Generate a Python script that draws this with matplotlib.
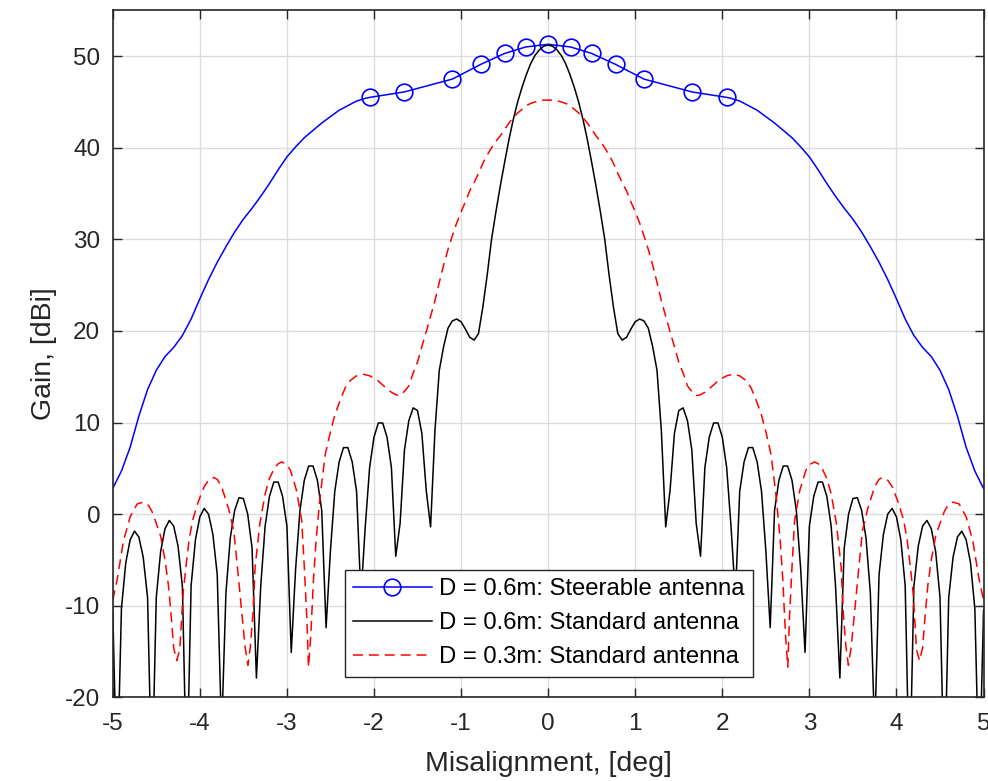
import numpy as np
import matplotlib
matplotlib.use("Agg")
import matplotlib.pyplot as plt

plt.rcParams['font.family'] = ['Liberation Sans', 'DejaVu Sans']
plt.rcParams['axes.unicode_minus'] = False

# ---------------- data (left half, mirrored: the pattern is symmetric) ----------------
# Steerable antenna D = 0.6 m
blue_x_left = [-5.0, -4.9, -4.8, -4.7, -4.6, -4.5, -4.4, -4.3, -4.2, -4.1,
               -4.0, -3.9, -3.8, -3.7, -3.6, -3.5, -3.4, -3.3, -3.2, -3.1,
               -3.0, -2.9, -2.8, -2.7, -2.6, -2.5, -2.4, -2.3, -2.2, -2.1,
               -2.05, -1.65, -1.1, -0.775, -0.5, -0.26, 0.0]
blue_y_left = [2.8, 4.7, 7.3, 10.7, 13.6, 15.7, 17.2, 18.2, 19.5, 21.3,
               23.5, 25.6, 27.5, 29.2, 30.8, 32.2, 33.4, 34.7, 36.1, 37.6,
               39.0, 40.1, 41.1, 41.9, 42.7, 43.4, 44.1, 44.6, 45.1, 45.4,
               45.5, 46.1, 47.5, 49.1, 50.3, 51.0, 51.3]
blue_marker_x_left = [-2.05, -1.65, -1.1, -0.775, -0.5, -0.26, 0.0]

# Standard antenna D = 0.6 m (sampled every 0.05 deg from -5 to 0)
black_x_left = np.linspace(-5.0, 0.0, 101)
black_y_left = [-10.5, -30, -10.3, -5.3, -2.8, -1.86, -2.5, -4.7, -9.1, -30,
                -9.1, -4.1, -1.6, -0.69, -1.3, -3.5, -7.9, -30, -7.8, -2.8,
                -0.3, 0.62, 0.0, -2.2, -6.6, -24, -8.6, -2.6, 0.4, 1.8,
                1.7, 0.0, -3.7, -17.9, -7.8, -1.3, 1.95, 3.5, 3.5, 1.95,
                -1.3, -15.1, -6.0, 0.4, 3.7, 5.25, 5.25, 3.7, 0.4, -12.4,
                -4.0, 2.5, 5.7, 7.26, 7.26, 5.7, 2.5, -9.0, -1.35, 5.1,
                8.4, 9.95, 9.95, 8.4, 5.1, -4.6, -1.0, 7.0, 10.2, 11.6,
                11.3, 8.8, 2.6, -1.4, 9.1, 15.7, 18.3, 20.3, 21.1, 21.3,
                21.0, 20.2, 19.3, 19.0, 19.7, 22.6, 26.1, 30.0, 33.0, 35.8,
                38.4, 40.9, 43.1, 45.0, 46.6, 48.0, 49.2, 50.1, 50.7, 51.1,
                51.2]

# Standard antenna D = 0.3 m
red_x_left = [-5.00, -4.95, -4.90, -4.876, -4.85, -4.80, -4.72, -4.65, -4.59, -4.55,
              -4.50, -4.45, -4.40, -4.36, -4.33, -4.30, -4.265, -4.23, -4.21, -4.19,
              -4.16, -4.12, -4.08, -4.03, -4.00, -3.95, -3.90, -3.84, -3.80, -3.75,
              -3.70, -3.67, -3.61, -3.57, -3.52, -3.48, -3.448, -3.42, -3.39, -3.365,
              -3.31, -3.25, -3.20, -3.15, -3.10, -3.06, -3.00, -2.96, -2.89, -2.83,
              -2.80, -2.77, -2.752, -2.725, -2.695, -2.665, -2.62, -2.56, -2.50, -2.45,
              -2.39, -2.33, -2.27, -2.20, -2.12, -2.05, -1.97, -1.90, -1.85, -1.80,
              -1.74, -1.70, -1.64, -1.60, -1.55, -1.50, -1.45, -1.40, -1.35, -1.30,
              -1.25, -1.20, -1.15, -1.10, -1.05, -1.00, -0.95, -0.90, -0.85, -0.80,
              -0.75, -0.70, -0.65, -0.60, -0.55, -0.50, -0.45, -0.40, -0.35, -0.30,
              -0.25, -0.20, -0.15, -0.10, -0.05, 0.0]
red_y_left = [-9.4, -7.2, -4.3, -2.9, -2.0, -0.3, 1.1, 1.31, 0.95, 0.3,
              -1.0, -2.4, -5.0, -7.8, -11.0, -14.6, -16.0, -14.8, -11.5, -8.5,
              -5.8, -2.6, -0.6, 1.0, 1.8, 3.0, 3.7, 4.0, 3.8, 3.0,
              1.5, 0.6, -1.8, -5.6, -10.6, -14.5, -16.5, -14.5, -10.9, -5.8,
              -1.0, 2.2, 3.9, 4.9, 5.5, 5.7, 5.4, 4.8, 2.6, -0.7,
              -5.8, -11.6, -16.7, -13.1, -7.2, -2.9, 1.8, 6.5, 9.0, 10.8,
              12.4, 13.8, 14.6, 15.1, 15.27, 15.1, 14.7, 14.1, 13.7, 13.3,
              13.0, 12.95, 13.5, 14.0, 15.4, 16.6, 18.3, 19.9, 21.6, 23.3,
              25.3, 27.2, 28.9, 30.4, 31.8, 33.0, 34.1, 35.3, 36.2, 37.2,
              38.3, 39.2, 40.0, 40.7, 41.3, 42.0, 42.7, 43.3, 43.8, 44.2,
              44.6, 44.85, 45.0, 45.15, 45.2, 45.2]

labels = ['D = 0.6m: Steerable antenna',
          'D = 0.6m: Standard antenna',
          'D = 0.3m: Standard antenna']
xticks = [-5, -4, -3, -2, -1, 0, 1, 2, 3, 4, 5]
yticks = [-20, -10, 0, 10, 20, 30, 40, 50]


def mirror(xl, yl):
    xl = np.asarray(xl, float)
    yl = np.asarray(yl, float)
    x = np.concatenate([xl, -xl[::-1][1:]])
    y = np.concatenate([yl, yl[::-1][1:]])
    return x, y


bx, by = mirror(blue_x_left, blue_y_left)
kx, ky = mirror(black_x_left, black_y_left)
rx, ry = mirror(red_x_left, red_y_left)
bmx = np.asarray(blue_marker_x_left)
bmx = np.concatenate([bmx, -bmx[::-1][1:]])
mark_idx = [int(np.argmin(np.abs(bx - m))) for m in bmx]

# ---------------- figure ----------------
fig = plt.figure(figsize=(9.88, 7.81), dpi=100)
ax = fig.add_axes([0.1141, 0.1072, 0.8814, 0.8795])

ax.plot(bx, by, color=(0, 0, 1), lw=1.1, marker='o', markevery=mark_idx,
        markersize=12, markerfacecolor='none', markeredgewidth=1.2,
        label=labels[0])
ax.plot(kx, ky, color='black', lw=1.1, label=labels[1])
ax.plot(rx, ry, color=(1, 0, 0), lw=1.1, dashes=[6.5, 3.9], label=labels[2])

ax.set_xlim(-5, 5)
ax.set_ylim(-20, 55)
ax.set_xticks(xticks)
ax.set_yticks(yticks)
ax.grid(True, color='#dcdcdc', lw=1.0)
ax.set_axisbelow(True)

ax.tick_params(direction='in', length=6.5, width=1.0, top=True, right=True,
               labelsize=17.5, colors='#262626')
ax.tick_params(axis='x', pad=11)
ax.tick_params(axis='y', pad=9)
for s in ax.spines.values():
    s.set_color('#262626')
    s.set_linewidth(1.2)

ax.set_xlabel('Misalignment, [deg]', fontsize=20.5, color='#262626', labelpad=12)
ax.set_ylabel('Gain, [dBi]', fontsize=20.5, color='#262626', labelpad=6)

leg = ax.legend(loc='lower center', bbox_to_anchor=(0.5006, 0.030),
                borderaxespad=0, fontsize=17.2, fancybox=False, framealpha=1,
                edgecolor='#262626', handlelength=3.3, handletextpad=0.3,
                labelspacing=0.5, borderpad=0.35)
leg.get_frame().set_linewidth(1.0)

fig.savefig('out.png', dpi=100)
